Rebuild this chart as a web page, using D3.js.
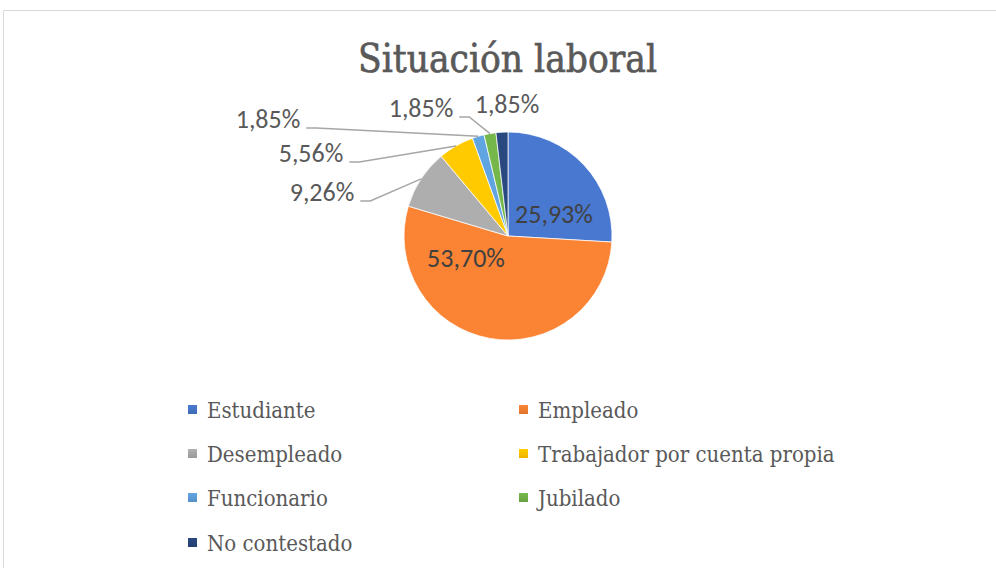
<!DOCTYPE html>
<html>
<head>
<meta charset="utf-8">
<script src="https://cdn.jsdelivr.net/npm/d3@7"></script>
<style>
  body { margin: 0; background: #fff; }
  svg { display: block; }
</style>
</head>
<body>
<div id="chart"></div>
<script>
// Data
const categories = ["Estudiante", "Empleado", "Desempleado", "Trabajador por cuenta propia", "Funcionario", "Jubilado", "No contestado"];
const values = [25.93, 53.70, 9.26, 5.56, 1.85, 1.85, 1.85];
const labels = ["25,93%", "53,70%", "9,26%", "5,56%", "1,85%", "1,85%", "1,85%"];
const colors = ["#4472C4", "#ED7D31", "#A5A5A5", "#FFC000", "#5B9BD5", "#70AD47", "#264478"];

// Layout of the data labels (offset from pie center, label center x / baseline y)
const labelOffsets = [[46, -13], [-42, 31], [-186, -35], [-197, -74], [-240, -108], [-87, -119], [-1, -123]];
const hasLeader = [false, false, true, true, true, true, false];

const width = 996, height = 568;
const cx = 508, cy = 236, radius = 104;

const svg = d3.select("#chart").append("svg")
  .attr("width", width)
  .attr("height", height);

// chart area border
svg.append("path")
  .attr("d", "M3.5," + height + "V10.5H" + width)
  .attr("fill", "none")
  .attr("stroke", "#D9D9D9")
  .attr("stroke-width", 1);

// Title
svg.append("text")
  .attr("x", 507.5)
  .attr("y", 72)
  .attr("text-anchor", "middle")
  .attr("font-family", "'DejaVu Serif', serif")
  .attr("font-size", 40)
  .attr("fill", "#595959")
  .attr("stroke", "#595959")
  .attr("stroke-width", 0.7)
  .attr("textLength", 299)
  .attr("lengthAdjust", "spacingAndGlyphs")
  .text("Situación laboral");

// gradients for slices (lighter top, darker bottom)
const defs = svg.append("defs");
colors.forEach((c, i) => {
  const g = defs.append("linearGradient")
    .attr("id", "grad" + i)
    .attr("gradientUnits", "userSpaceOnUse")
    .attr("x1", 0).attr("y1", cy - radius)
    .attr("x2", 0).attr("y2", cy + radius);
  g.append("stop").attr("offset", "0%").attr("stop-color", d3.color(c).brighter(0.15));
  g.append("stop").attr("offset", "100%").attr("stop-color", d3.color(c).darker(0.2));

  const lg = defs.append("linearGradient")
    .attr("id", "lgrad" + i)
    .attr("x1", 0).attr("y1", 0).attr("x2", 0).attr("y2", 1);
  lg.append("stop").attr("offset", "0%").attr("stop-color", d3.color(c).brighter(0.2));
  lg.append("stop").attr("offset", "100%").attr("stop-color", d3.color(c).darker(0.2));
});

const pie = d3.pie().sort(null).value(d => d);
const arcs = pie(values);
const arc = d3.arc().innerRadius(0).outerRadius(radius);

const pieG = svg.append("g").attr("transform", "translate(" + cx + "," + cy + ")");

pieG.selectAll("path.slice")
  .data(arcs)
  .enter().append("path")
  .attr("class", "slice")
  .attr("d", arc)
  .attr("fill", (d, i) => "url(#grad" + i + ")")
  .attr("stroke", "#fff")
  .attr("stroke-width", 0.75);

// Data labels
const labelFont = "Carlito, Lato, 'Noto Sans', sans-serif";
const labelG = pieG.append("g");

const lab = labelG.selectAll("text")
  .data(arcs)
  .enter().append("text")
  .attr("x", (d, i) => labelOffsets[i][0])
  .attr("y", (d, i) => labelOffsets[i][1])
  .attr("text-anchor", "middle")
  .attr("font-family", labelFont)
  .attr("font-size", 26)
  .attr("fill", (d, i) => i < 2 ? "#404040" : "#595959")
  .text((d, i) => labels[i]);

// Leader lines
lab.each(function(d, i) {
  if (!hasLeader[i]) return;
  const bb = this.getBBox();
  const mid = (d.startAngle + d.endAngle) / 2;
  const end = [Math.sin(mid) * radius, -Math.cos(mid) * radius];
  const y0 = labelOffsets[i][1];
  const x0 = bb.x + bb.width + 6;
  const pts = [[x0, y0], [x0 + 10, y0], end];
  labelG.append("path")
    .attr("d", d3.line()(pts))
    .attr("fill", "none")
    .attr("stroke", "#A6A6A6")
    .attr("stroke-width", 1.5);
});

// Legend
const legendCols = [188, 519];
const legendRows = [410, 454, 498, 543];
const legend = svg.append("g")
  .selectAll("g")
  .data(categories)
  .enter().append("g")
  .attr("transform", (d, i) => "translate(" + legendCols[i % 2] + "," + legendRows[Math.floor(i / 2)] + ")");

legend.append("rect")
  .attr("x", 0).attr("y", -5)
  .attr("width", 9).attr("height", 9)
  .attr("fill", (d, i) => "url(#lgrad" + i + ")");

legend.append("text")
  .attr("x", 19)
  .attr("y", 8)
  .attr("font-family", "'DejaVu Serif Condensed', 'DejaVu Serif', serif")
  .attr("font-size", 22)
  .attr("fill", "#595959")
  .text(d => d);
</script>
</body>
</html>
